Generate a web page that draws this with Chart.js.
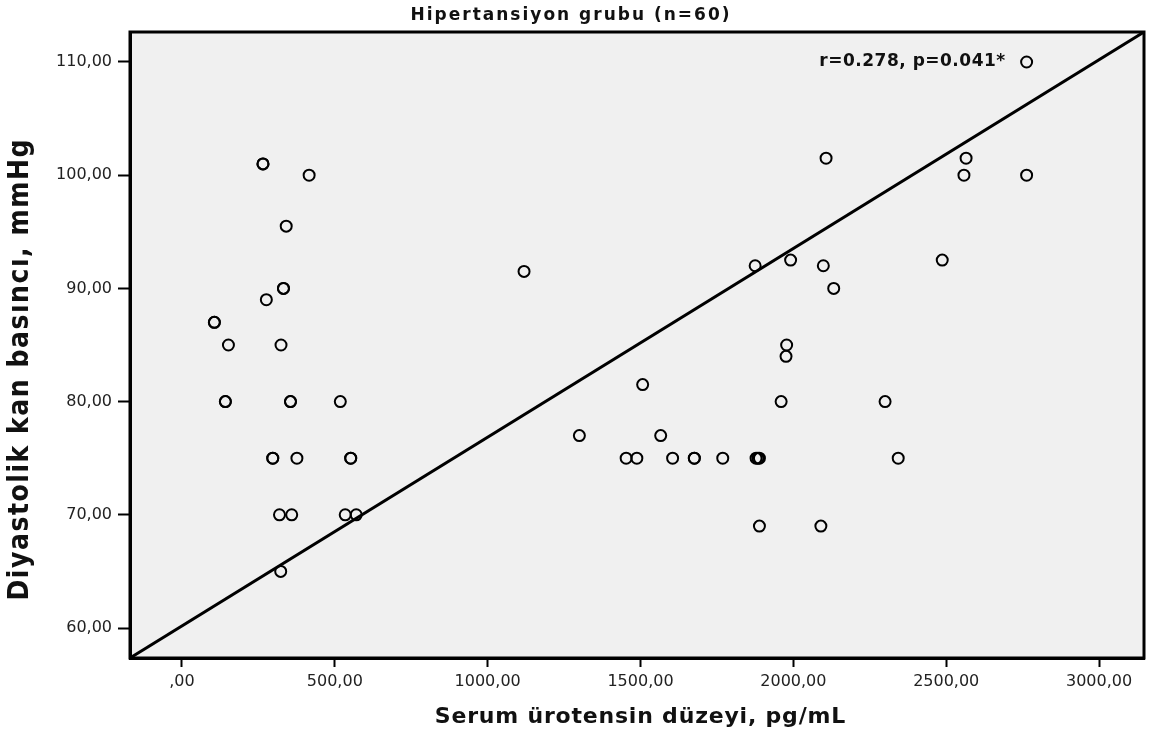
<!DOCTYPE html>
<html><head><meta charset="utf-8">
<script src="https://cdn.jsdelivr.net/npm/chart.js@4.4.1/dist/chart.umd.min.js"></script>
<style>html,body{margin:0;padding:0;background:#fff}#wrap{width:1155px;height:736px;position:relative}</style>
</head><body><div id="wrap"><canvas id="c"></canvas></div>
<script>
// Serum ürotensin düzeyi (pg/mL) – x values
const urotensin = [
  265,265,416,341,332,332,276,106,106,152,324,142,142,355,355,518,297,297,376,552,552,319,359,534,570,323,
  1119,1300,1507,1566,1453,1488,1605,1676,1676,1769,1878,1889,1884,1889,1960,2090,
  2107,2565,2558,2763,1875,1991,2098,2132,2487,1978,1976,2300,2343,2763
];
// Diyastolik kan basıncı (mmHg) – y values
const diastolic = [
  101,101,100,95.5,90,90,89,87,87,85,85,80,80,80,80,80,75,75,75,75,75,70,70,70,70,65,
  91.5,77,81.5,77,75,75,75,75,75,75,75,75,75,69,80,69,
  101.5,101.5,100,100,92,92.5,92,90,92.5,85,84,80,75,110
];
const xTicks = [0,500,1000,1500,2000,2500,3000];
const yTicks = [60,70,80,90,100,110];
const X_MIN = -170, X_MAX = 3147;
const Y_MIN = 57.35, Y_MAX = 112.65;
const TITLE = 'Hipertansiyon grubu (n=60)';
const X_TITLE = 'Serum ürotensin düzeyi, pg/mL';
const Y_TITLE = 'Diyastolik kan basıncı, mmHg';
const ANNOTATION = 'r=0.278, p=0.041*';
const ANNOT_X = 2085, ANNOT_Y = 110;

const points = urotensin.map((v,i)=>({x:v,y:diastolic[i]}));
const fmt = v => v === 0 ? ',00' : v.toFixed(2).replace('.', ',');

function spacedText(ctx, text, x, y, font, spacing, align, rot){
  ctx.save();
  ctx.translate(x, y);
  if (rot) ctx.rotate(rot);
  ctx.font = font;
  ctx.letterSpacing = spacing + 'px';
  ctx.fillStyle = '#111';
  ctx.textBaseline = 'middle';
  ctx.textAlign = align;
  ctx.fillText(text, align === 'center' ? spacing/2 : 0, 0);
  ctx.restore();
}

const bgPlugin = {
  id:'bg',
  beforeDraw(chart){
    const {ctx, chartArea:a} = chart;
    ctx.save(); ctx.fillStyle='#f0f0f0';
    ctx.fillRect(a.left,a.top,a.right-a.left,a.bottom-a.top); ctx.restore();
  },
  afterDraw(chart){
    const {ctx, chartArea:a, scales:{x,y}} = chart;
    ctx.save(); ctx.strokeStyle='#000'; ctx.lineWidth=3;
    ctx.strokeRect(a.left,a.top,a.right-a.left,a.bottom-a.top);
    ctx.restore();
    spacedText(ctx, ANNOTATION, x.getPixelForValue(ANNOT_X), y.getPixelForValue(ANNOT_Y), 'bold 17px "DejaVu Sans", sans-serif', 0.5, 'left');
    spacedText(ctx, TITLE, 570, 16, 'bold 17px "DejaVu Sans", sans-serif', 2, 'center');
    spacedText(ctx, X_TITLE, 640, 717, 'bold 22px "DejaVu Sans", sans-serif', 0.8, 'center');
    spacedText(ctx, Y_TITLE, 21, 370, 'bold 28px "DejaVu Sans Condensed", "DejaVu Sans", sans-serif', 1.5, 'center', -Math.PI/2);
  }
};

new Chart(document.getElementById('c'), {
  type:'scatter',
  data:{datasets:[
    {type:'line', data:[{x:X_MIN,y:Y_MIN},{x:X_MAX,y:Y_MAX}], borderColor:'#000', borderWidth:3, pointRadius:0, fill:false},
    {data:points, pointRadius:5.5, pointBorderWidth:2, borderColor:'#000', backgroundColor:'rgba(0,0,0,0)', pointHoverRadius:5.5}
  ]},
  options:{
    responsive:true, maintainAspectRatio:false, animation:false,
    layout:{padding:{left:0,right:11,top:32,bottom:0}},
    plugins:{legend:{display:false}, tooltip:{enabled:false}, title:{display:false}},
    scales:{
      x:{type:'linear', min:X_MIN, max:X_MAX,
        afterBuildTicks:s=>{s.ticks = xTicks.map(v=>({value:v}));},
        afterFit:s=>{s.height = 78;},
        ticks:{callback:fmt, color:'#222', font:{family:'"DejaVu Sans", sans-serif', size:16}, padding:5, maxRotation:0},
        grid:{drawOnChartArea:false, drawTicks:true, tickLength:9, tickWidth:2, tickColor:'#000'},
        border:{display:true, color:'#000', width:3},
        title:{display:false}
      },
      y:{type:'linear', min:Y_MIN, max:Y_MAX,
        afterBuildTicks:s=>{s.ticks = yTicks.map(v=>({value:v}));},
        afterFit:s=>{s.width = 130;},
        ticks:{callback:fmt, color:'#222', font:{family:'"DejaVu Sans", sans-serif', size:16}, padding:6},
        grid:{drawOnChartArea:false, drawTicks:true, tickLength:12, tickWidth:2, tickColor:'#000'},
        border:{display:true, color:'#000', width:3},
        title:{display:false}
      }
    }
  },
  plugins:[bgPlugin]
});
</script></body></html>
